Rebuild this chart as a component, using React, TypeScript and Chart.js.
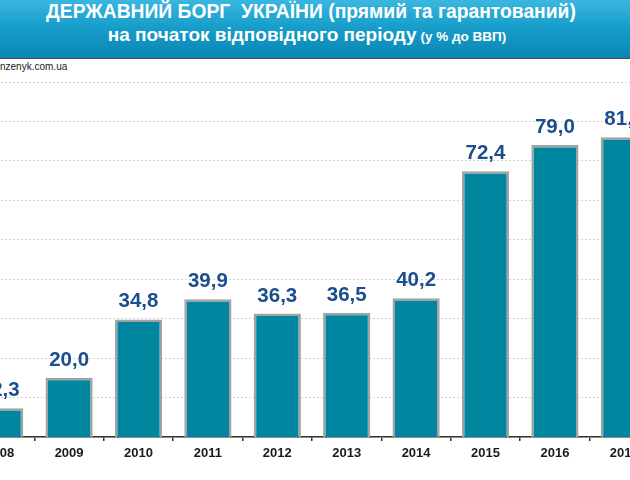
import React, { useEffect, useRef } from "react";
import { Chart, registerables } from "chart.js";

Chart.register(...registerables);

const categories = ["2008", "2009", "2010", "2011", "2012", "2013", "2014", "2015", "2016", "2017"];
const debtValues = [12.3, 20.0, 34.8, 39.9, 36.3, 36.5, 40.2, 72.4, 79.0, 81.0];
const titleLine1 = "ДЕРЖАВНИЙ БОРГ  УКРАЇНИ (прямий та гарантований)";
const titleLine2Main = "на початок відповідного періоду";
const titleLine2Unit = " (у % до ВВП)";
const sourceText = "nzenyk.com.ua";
const yMin = 5;
const yMax = 95;
const yStep = 10;

const FONT = "'Liberation Sans', Arial, sans-serif";

const valueLabels = {
  id: "valueLabels",
  afterDatasetsDraw(chart: any) {
    const ctx = chart.ctx;
    const meta = chart.getDatasetMeta(0);
    ctx.save();
    ctx.font = `bold 20.5px ${FONT}`;
    ctx.fillStyle = "#1b4e8d";
    ctx.textAlign = "center";
    ctx.textBaseline = "alphabetic";
    meta.data.forEach((bar: any, i: number) => {
      const v = chart.data.datasets[0].data[i] as number;
      ctx.fillText(v.toFixed(1).replace(".", ","), bar.x, bar.y - 12);
    });
    ctx.restore();
  },
};

export default function App() {
  const canvasRef = useRef<HTMLCanvasElement | null>(null);

  useEffect(() => {
    if (!canvasRef.current) return;
    const chart = new Chart(canvasRef.current, {
      type: "bar",
      data: {
        labels: categories,
        datasets: [
          {
            data: debtValues,
            backgroundColor: "#00869f",
            borderColor: "#a2a2a2",
            borderWidth: 2.5,
            categoryPercentage: 1,
            barPercentage: 0.68,
          },
        ],
      },
      options: {
        animation: false,
        responsive: true,
        maintainAspectRatio: false,
        layout: { padding: { top: 10, left: 0, right: 0, bottom: 0 } },
        plugins: { legend: { display: false }, tooltip: { enabled: false } },
        scales: {
          x: {
            grid: {
              offset: true,
              drawOnChartArea: false,
              drawTicks: true,
              tickLength: 4,
              color: "#333333",
              lineWidth: 1.5,
            },
            border: { display: true, color: "#333333", width: 1.5 },
            ticks: {
              font: { family: FONT, size: 13, weight: "bold" },
              color: "#1a1a1a",
              padding: 5,
              autoSkip: false,
              maxRotation: 0,
            },
            afterFit: (scale: any) => {
              scale.height = 30;
            },
          },
          y: {
            min: yMin,
            max: yMax,
            ticks: { display: false, stepSize: yStep },
            grid: { color: "#d3d3d3", lineWidth: 1, drawTicks: false },
            border: { display: false, dash: [2, 2] },
            afterFit: (scale: any) => {
              scale.width = 0;
            },
          },
        },
      },
      plugins: [valueLabels],
    });
    return () => chart.destroy();
  }, []);

  return (
    <div
      style={{
        position: "fixed",
        left: 0,
        top: 0,
        width: 630,
        height: 480,
        overflow: "hidden",
        background: "#ffffff",
        fontFamily: FONT,
      }}
    >
      <div
        style={{
          position: "absolute",
          left: 0,
          top: 0,
          width: 630,
          height: 58,
          background: "linear-gradient(to bottom, #3ab7e0 0%, #189ecb 45%, #0a86b4 100%)",
          borderBottom: "1.5px solid #4a4a4a",
        }}
      >
        <div
          style={{
            position: "absolute",
            left: 0,
            width: 622,
            top: 2,
            textAlign: "center",
            color: "#ffffff",
            fontWeight: "bold",
            fontSize: 19.3,
            lineHeight: "20px",
            whiteSpace: "pre",
          }}
        >
          {titleLine1}
        </div>
        <div
          style={{
            position: "absolute",
            left: 0,
            width: 614,
            top: 25,
            textAlign: "center",
            color: "#ffffff",
            fontWeight: "bold",
            fontSize: 19,
            lineHeight: "20px",
            whiteSpace: "pre",
          }}
        >
          {titleLine2Main}
          <span style={{ fontSize: 13.5 }}>{titleLine2Unit}</span>
        </div>
      </div>
      <div
        style={{
          position: "absolute",
          left: 0,
          top: 61,
          fontSize: 10,
          color: "#222222",
          lineHeight: "12px",
        }}
      >
        {sourceText}
      </div>
      <div
        style={{
          position: "absolute",
          left: -35,
          top: 72,
          width: 694,
          height: 395,
        }}
      >
        <canvas ref={canvasRef} />
      </div>
    </div>
  );
}
